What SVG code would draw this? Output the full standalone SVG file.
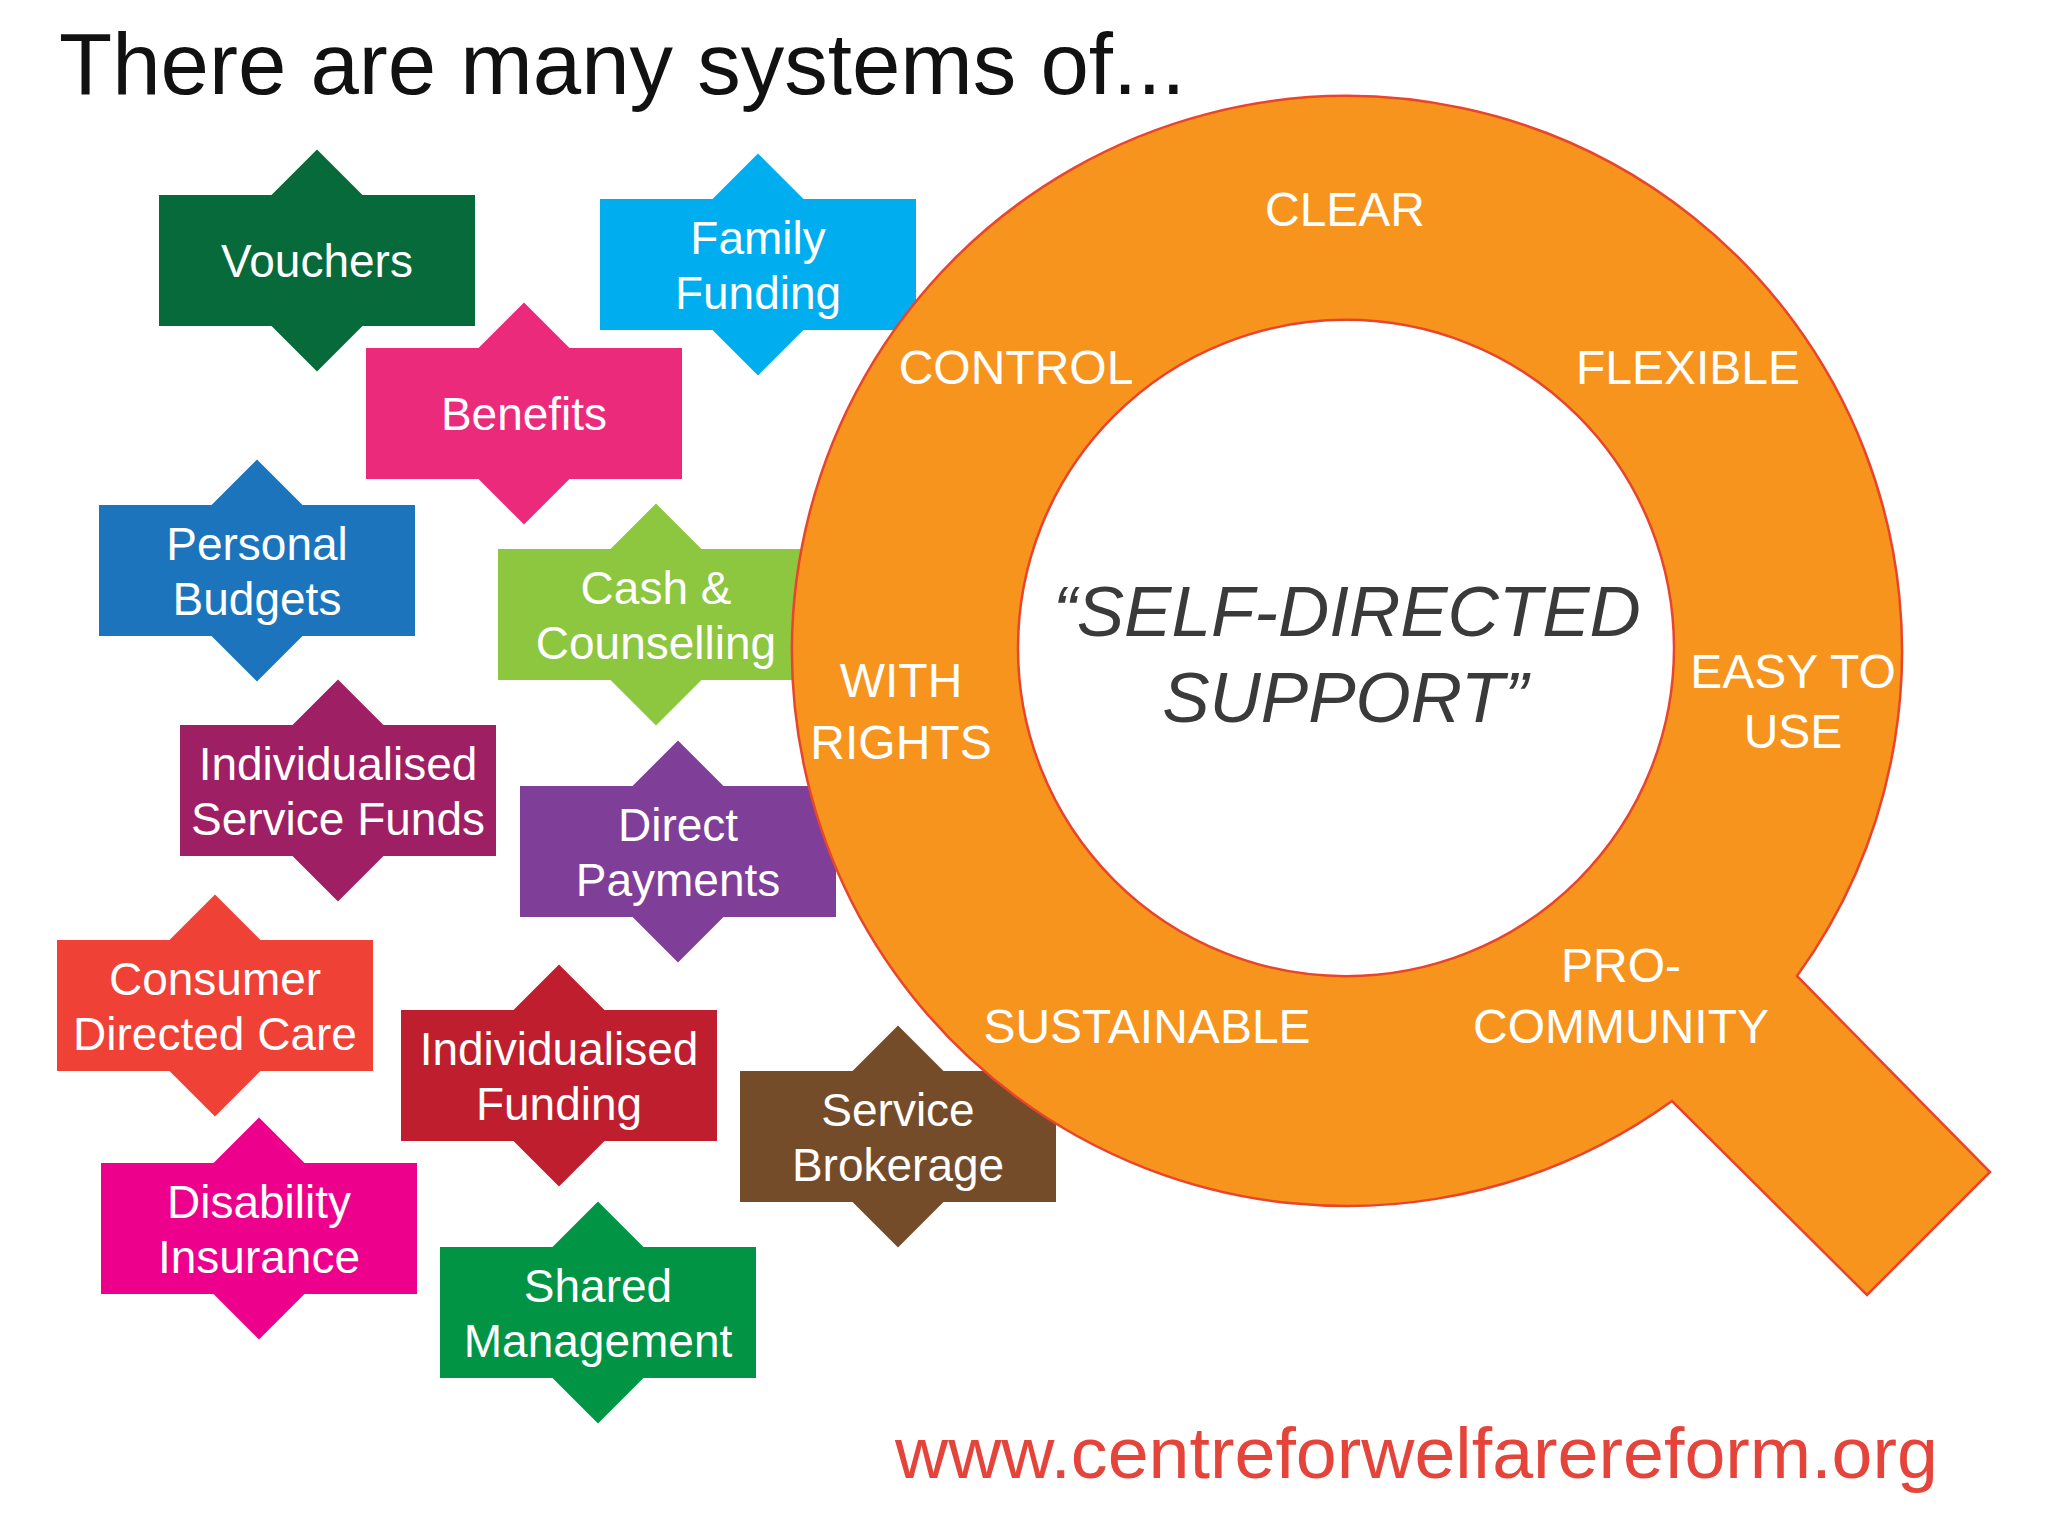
<svg xmlns="http://www.w3.org/2000/svg" xmlns:xlink="http://www.w3.org/1999/xlink" width="2048" height="1536" viewBox="0 0 2048 1536">
  <style>
    .node text { fill: #ffffff; font-family: "Liberation Sans", Arial, sans-serif; font-size: 46px; text-anchor: middle; }
    .qlabel { fill: #ffffff; font-family: "Liberation Sans", Arial, sans-serif; font-size: 48px; text-anchor: middle; }
    .title { fill: #111111; font-family: "Liberation Sans", Arial, sans-serif; font-size: 87px; }
    .center { fill: #3a3a3a; font-family: "Liberation Sans", Arial, sans-serif; font-size: 71px; font-style: italic; text-anchor: middle; }
    .url { fill: #e4443a; font-family: "Liberation Sans", Arial, sans-serif; font-size: 73px; }
  </style>
  <defs>
    <g id="badge">
      <polygon points="0,-111 111,0 0,111 -111,0"/>
      <rect x="-158" y="-65.5" width="316" height="131"/>
    </g>
  </defs>
  <rect width="2048" height="1536" fill="#ffffff"/>
  <text class="title" x="59" y="94">There are many systems of...</text>

  <g id="nodes">
    <g id="vouchers" class="node" fill="#066a3a" transform="translate(317,260.5)">
      <use xlink:href="#badge" href="#badge"/>
      <text y="16">Vouchers</text>
    </g>
    <g id="family-funding" class="node" fill="#00aeef" transform="translate(758,264.5)">
      <use xlink:href="#badge" href="#badge"/>
      <text y="-11">Family</text><text y="44">Funding</text>
    </g>
    <g id="benefits" class="node" fill="#ec2a7b" transform="translate(524,413.5)">
      <use xlink:href="#badge" href="#badge"/>
      <text y="16">Benefits</text>
    </g>
    <g id="personal-budgets" class="node" fill="#1c75bc" transform="translate(257,570.5)">
      <use xlink:href="#badge" href="#badge"/>
      <text y="-11">Personal</text><text y="44">Budgets</text>
    </g>
    <g id="cash-counselling" class="node" fill="#8dc63f" transform="translate(656,614.5)">
      <use xlink:href="#badge" href="#badge"/>
      <text y="-11">Cash &amp;</text><text y="44">Counselling</text>
    </g>
    <g id="individualised-service-funds" class="node" fill="#9e1f63" transform="translate(338,790.5)">
      <use xlink:href="#badge" href="#badge"/>
      <text y="-11">Individualised</text><text y="44">Service Funds</text>
    </g>
    <g id="direct-payments" class="node" fill="#7f3f98" transform="translate(678,851.5)">
      <use xlink:href="#badge" href="#badge"/>
      <text y="-11">Direct</text><text y="44">Payments</text>
    </g>
    <g id="consumer-directed-care" class="node" fill="#ef4136" transform="translate(215,1005.5)">
      <use xlink:href="#badge" href="#badge"/>
      <text y="-11">Consumer</text><text y="44">Directed Care</text>
    </g>
    <g id="individualised-funding" class="node" fill="#be1e2d" transform="translate(559,1075.5)">
      <use xlink:href="#badge" href="#badge"/>
      <text y="-11">Individualised</text><text y="44">Funding</text>
    </g>
    <g id="service-brokerage" class="node" fill="#754c29" transform="translate(898,1136.5)">
      <use xlink:href="#badge" href="#badge"/>
      <text y="-11">Service</text><text y="44">Brokerage</text>
    </g>
    <g id="disability-insurance" class="node" fill="#ec008c" transform="translate(259,1228.5)">
      <use xlink:href="#badge" href="#badge"/>
      <text y="-11">Disability</text><text y="44">Insurance</text>
    </g>
    <g id="shared-management" class="node" fill="#009444" transform="translate(598,1312.5)">
      <use xlink:href="#badge" href="#badge"/>
      <text y="-11">Shared</text><text y="44">Management</text>
    </g>
  </g>

  <g id="q-shape">
    <path fill="#f7941d" stroke="#e8452c" stroke-width="2.5" fill-rule="evenodd"
      d="M 1797 976 L 1990 1172 L 1867 1295 L 1672 1101 A 555 555 0 1 1 1797 976 Z
         M 1674 648 A 328 328 0 1 0 1018 648 A 328 328 0 1 0 1674 648 Z"/>
    <text class="qlabel" x="1345" y="226">CLEAR</text>
    <text class="qlabel" x="1016" y="384">CONTROL</text>
    <text class="qlabel" x="1688" y="384">FLEXIBLE</text>
    <text class="qlabel" x="901" y="697">WITH</text>
    <text class="qlabel" x="901" y="759">RIGHTS</text>
    <text class="qlabel" x="1793" y="688">EASY TO</text>
    <text class="qlabel" x="1793" y="748">USE</text>
    <text class="qlabel" x="1621" y="982">PRO-</text>
    <text class="qlabel" x="1621" y="1043">COMMUNITY</text>
    <text class="qlabel" x="1147" y="1043">SUSTAINABLE</text>
    <text class="center" x="1347" y="636">“SELF-DIRECTED</text>
    <text class="center" x="1345" y="722">SUPPORT”</text>
  </g>

  <text class="url" x="895" y="1478" textLength="1043" lengthAdjust="spacingAndGlyphs">www.centreforwelfarereform.org</text>
</svg>
